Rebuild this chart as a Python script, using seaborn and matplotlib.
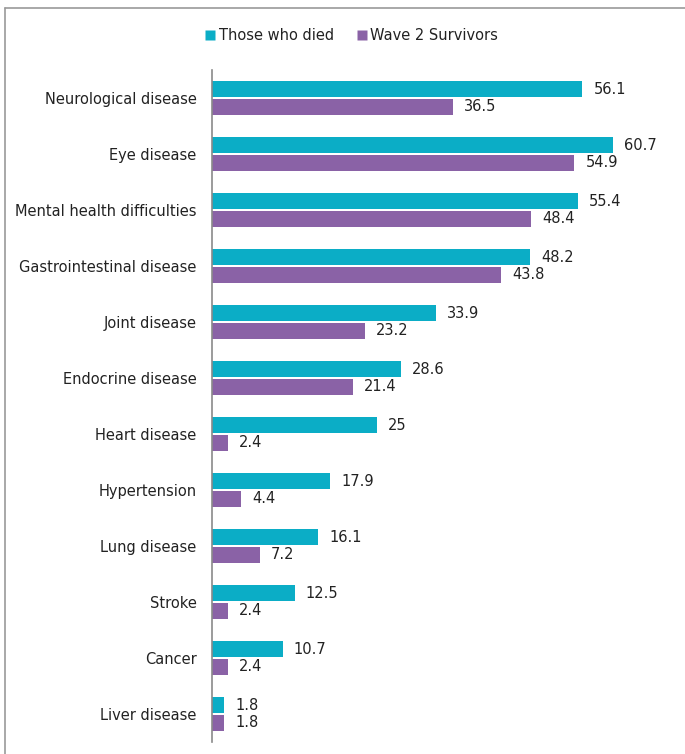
import matplotlib
matplotlib.use("Agg")
import matplotlib.pyplot as plt
from matplotlib.lines import Line2D
import seaborn as sns
import pandas as pd

categories = ["Neurological disease", "Eye disease", "Mental health difficulties",
              "Gastrointestinal disease", "Joint disease", "Endocrine disease",
              "Heart disease", "Hypertension", "Lung disease", "Stroke",
              "Cancer", "Liver disease"]
series_names = ["Those who died", "Wave 2 Survivors"]
died = [56.1, 60.7, 55.4, 48.2, 33.9, 28.6, 25, 17.9, 16.1, 12.5, 10.7, 1.8]
survivors = [36.5, 54.9, 48.4, 43.8, 23.2, 21.4, 2.4, 4.4, 7.2, 2.4, 2.4, 1.8]
colors = ["#0BADC6", "#8A62A6"]

df = pd.DataFrame({
    "category": categories * 2,
    "value": died + survivors,
    "series": [series_names[0]] * len(categories) + [series_names[1]] * len(categories),
})

sns.set_style("white")
plt.rcParams["font.family"] = ["DejaVu Sans"]

fig = plt.figure(figsize=(6.85, 7.54), dpi=100)
ax = fig.add_axes([212 / 685, 12 / 754, 468 / 685, 672 / 754])

sns.barplot(data=df, x="value", y="category", hue="series", order=categories,
            hue_order=series_names, palette=colors, width=0.64, gap=0.08,
            orient="y", legend=False, ax=ax, edgecolor="none", saturation=1)

for cont in ax.containers:
    ax.bar_label(cont, fmt="%g", padding=8, fontsize=10.5, color="#222222")

ax.set_xlim(0, 468 / 6.6)
ax.set_ylim(len(categories) - 0.5, -0.5)
ax.set_xlabel("")
ax.set_ylabel("")
ax.set_xticks([])
ax.tick_params(axis="y", length=0, pad=11, labelsize=10.5, labelcolor="#222222")
for s in ["top", "right", "bottom"]:
    ax.spines[s].set_visible(False)
ax.spines["left"].set_color("#8a8a8a")
ax.spines["left"].set_linewidth(1.2)

handles = [Line2D([], [], marker="s", linestyle="none", markersize=6.5,
                  markerfacecolor=c, markeredgecolor="none") for c in colors]
fig.legend(handles, series_names, loc="center", bbox_to_anchor=(352 / 685, 1 - 36 / 754),
           ncol=2, frameon=False, fontsize=10.5, handlelength=0.6, handletextpad=0.3,
           columnspacing=1.6, labelcolor="#222222")

# outer frame lines (top and left)
fig.add_artist(Line2D([5 / 685, 1], [1 - 8 / 754, 1 - 8 / 754], color="#9a9a9a", lw=1.2,
                      transform=fig.transFigure))
fig.add_artist(Line2D([5 / 685, 5 / 685], [0, 1 - 8 / 754], color="#9a9a9a", lw=1.2,
                      transform=fig.transFigure))

fig.savefig("out.png", dpi=100)
